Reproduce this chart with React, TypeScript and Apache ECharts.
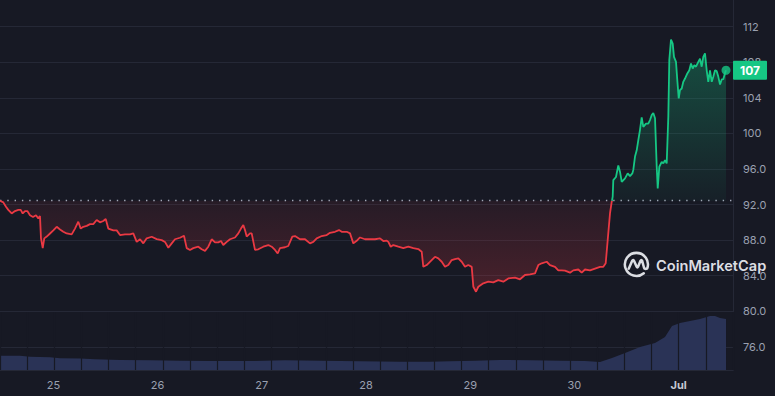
import React, { useEffect, useRef } from 'react';
import * as echarts from 'echarts';

// ---------- data ----------
// hours since 24 June 00:00, price
const OPEN_PRICE = 92.43;
const priceHistory: [number, number][] = [
  [11.70, 92.43], [12.46, 92.25], [13.08, 91.75], [13.61, 91.4], [14.39, 91.0], [15.15, 91.27], [15.92, 91.4], [16.47, 91.4],
  [16.93, 91.0], [17.46, 91.27], [17.99, 91.27], [18.61, 90.8], [19.30, 90.6], [19.99, 90.8], [20.52, 90.45], [20.91, 90.7],
  [21.14, 88.2], [21.54, 87.1], [21.90, 88.2], [22.46, 88.4], [23.22, 88.75], [23.98, 89.1], [24.76, 89.5], [25.52, 89.2],
  [26.28, 88.95], [27.06, 88.75], [28.21, 88.65], [28.97, 89.3], [29.73, 90.07], [30.29, 89.3], [30.89, 89.5], [31.67, 89.6],
  [32.43, 89.8], [33.19, 89.8], [33.97, 90.26], [34.73, 90.0], [35.49, 90.15], [36.05, 90.37], [36.64, 89.3], [37.80, 89.1],
  [38.58, 89.1], [39.34, 88.57], [40.49, 88.65], [41.64, 88.65], [42.40, 88.76], [43.19, 87.8], [43.95, 88.1], [44.71, 87.64],
  [45.49, 88.2], [46.64, 88.38], [47.79, 88.12], [48.94, 88.0], [49.70, 87.8], [50.47, 87.15], [51.25, 87.64], [52.01, 88.1],
  [53.16, 88.27], [54.08, 88.5], [54.70, 87.1], [55.46, 86.9], [56.22, 87.1], [57.37, 87.26], [58.16, 86.97], [58.92, 86.8],
  [59.68, 87.26], [60.46, 88.1], [61.22, 87.75], [61.98, 87.75], [62.60, 87.9], [63.13, 87.45], [63.92, 87.8], [64.68, 88.1],
  [65.83, 88.3], [66.59, 88.76], [67.21, 89.3], [67.74, 89.7], [68.13, 89.13], [68.52, 88.4], [69.28, 88.76], [69.67, 88.76],
  [70.43, 86.9], [71.19, 86.97], [72.35, 87.26], [73.50, 87.45], [74.28, 87.26], [75.04, 86.9], [75.66, 86.5], [76.19, 87.1],
  [77.34, 87.2], [78.10, 87.34], [79.03, 88.4], [79.65, 88.46], [80.80, 88.1], [81.95, 88.1], [83.10, 87.64], [83.86, 87.8],
  [84.65, 88.2], [85.80, 88.46], [86.95, 88.57], [87.71, 88.83], [88.86, 88.94], [89.78, 89.13], [90.40, 88.94], [91.56, 88.94],
  [92.32, 88.76], [93.08, 87.64], [93.86, 87.93], [94.62, 88.3], [95.77, 88.1], [96.92, 88.1], [98.07, 88.1], [99.23, 88.2],
  [99.99, 87.9], [100.77, 87.95], [101.14, 87.8], [101.69, 87.26], [102.29, 87.45], [103.44, 87.26], [104.59, 87.1], [105.74, 87.26],
  [106.90, 87.1], [108.05, 87.0], [108.83, 86.7], [109.20, 85.0], [109.98, 85.2], [111.13, 85.76], [111.89, 86.13], [112.65, 85.95],
  [113.44, 85.57], [114.20, 85.0], [114.96, 85.2], [115.74, 85.76], [116.50, 85.87], [117.26, 85.95], [118.04, 85.57], [118.80, 85.0],
  [119.56, 85.2], [120.35, 85.0], [120.72, 82.76], [121.34, 82.2], [121.87, 82.76], [123.02, 83.15], [124.17, 83.33], [125.32, 83.26],
  [126.47, 83.5], [127.63, 83.33], [128.78, 83.7], [130.32, 83.78], [131.47, 83.6], [132.62, 84.08], [133.78, 84.16], [134.93, 84.27],
  [135.69, 85.2], [136.47, 85.4], [137.62, 85.57], [138.38, 85.2], [139.53, 85.0], [140.29, 84.6], [141.08, 84.6], [141.84, 84.57],
  [142.99, 84.34], [143.75, 84.6], [144.90, 84.7], [145.68, 84.34], [146.44, 84.7], [147.60, 84.6], [148.75, 84.8], [149.90, 85.0],
  [150.66, 85.0], [151.21, 85.4], [151.67, 88.0], [152.20, 91.0], [152.59, 92.3], [152.66, 92.43],
  [152.82, 92.9], [152.96, 94.75], [153.58, 95.1], [154.11, 96.4], [154.50, 95.7], [154.90, 94.56], [155.66, 94.95], [156.28, 95.5],
  [156.81, 95.2], [157.34, 95.5], [157.57, 95.9], [157.96, 97.4], [158.35, 98.1], [158.72, 99.25], [159.11, 100.4], [159.50, 101.8],
  [159.87, 100.74], [160.49, 101.1], [161.02, 101.1], [161.41, 101.5], [161.81, 102.06], [162.17, 102.3], [162.57, 101.7], [162.96, 96.25],
  [163.19, 93.8], [163.56, 96.25], [164.11, 96.8], [164.48, 96.63], [164.87, 97.0], [165.26, 96.63], [165.63, 101.87], [165.86, 108.24],
  [166.25, 110.56], [166.64, 110.1], [166.94, 108.6], [167.40, 108.04], [167.70, 105.99], [168.03, 103.93], [168.32, 104.86], [168.72, 105.05],
  [169.08, 105.8], [169.48, 106.17], [170.01, 106.74], [170.47, 107.1], [170.86, 107.86], [171.25, 107.3], [171.62, 107.67], [172.01, 107.5],
  [172.54, 108.04], [172.93, 108.4], [173.32, 107.5], [173.69, 108.6], [174.08, 108.99], [174.47, 107.1], [174.84, 105.8], [175.23, 107.1],
  [175.63, 105.8], [175.99, 106.36], [176.39, 107.1], [176.78, 107.0], [177.15, 106.36], [177.54, 105.5], [177.93, 106.07], [178.30, 106.1],
  [178.69, 106.8], [178.92, 107.1],
];

// hours since 24 June 00:00, traded volume (M)
const volumeHistory: [number, number][] = [
  [11.70, 1430], [16.31, 1430], [18.61, 1320], [23.22, 1280], [25.52, 1170], [30.13, 1150], [33.58, 1070], [39.34, 1000],
  [46.25, 970], [53.16, 930], [60.07, 900], [69.28, 900], [77.34, 970], [85.41, 930], [94.62, 870], [103.83, 830],
  [110.74, 830], [115.35, 870], [121.11, 930], [126.87, 1000], [133.78, 970], [140.69, 930], [146.44, 900], [149.90, 800],
  [152.66, 1200], [155.66, 1700], [159.11, 2300], [162.57, 2700], [164.87, 3300], [166.48, 4400], [168.32, 4700], [172.93, 5100],
  [175.23, 5400], [176.39, 5400], [177.54, 5200], [178.92, 5100],
];

const dayTickHours = [24, 48, 72, 96, 120, 144, 168];
const dayTickLabels = ['25', '26', '27', '28', '29', '30', 'Jul'];
const priceTicks = [76, 80, 84, 88, 92, 96, 100, 104, 108, 112];

const X_MIN = 11.7;
const X_MAX = 180.53;

// ---------- style ----------
const BG = '#171924';
const GRID = '#252836';
const RED = '#ea3943';
const GREEN = '#16c784';
const VOL = '#2a3356';
const LABEL = '#9aa0b0';

const START_MS = new Date(2024, 5, 24, 0, 0, 0).getTime();
const toMs = (h: number) => START_MS + h * 3600000;

const LOGO_D =
  'M18.17 19.35 A9.6 9.6 0 1 1 21.02 15.28 ' +
  'M5.6 15.6 L8.5 9 Q9.2 7.6 10 9 L12.2 14 Q12.8 15.2 13.4 14 L15.4 9 Q16.1 7.6 16.8 9 L18.3 14.6 Q18.9 16.4 21 15.4';
echarts.graphic.registerShape('cmcLogo', echarts.graphic.extendPath(LOGO_D, {}));

function buildOption() {
  const crossIdx = priceHistory.findIndex(([, p], i) => i > 0 && p >= OPEN_PRICE);
  const redPart = priceHistory.slice(0, crossIdx + 1);
  const greenPart = priceHistory.slice(crossIdx);
  const last = priceHistory[priceHistory.length - 1];

  return {
    animation: false,
    backgroundColor: BG,
    grid: [
      { left: 0, right: 42, top: 0, bottom: 26 },
      { left: 0, right: 42, top: 312, bottom: 26 },
    ],
    xAxis: [
      {
        gridIndex: 0, type: 'time', min: toMs(X_MIN), max: toMs(X_MAX),
        axisLine: { show: false }, axisTick: { show: false }, axisLabel: { show: false }, splitLine: { show: false },
      },
      {
        gridIndex: 1, type: 'value', min: X_MIN, max: X_MAX,
        axisLine: { show: true, lineStyle: { color: GRID } },
        axisTick: { show: false, customValues: dayTickHours },
        splitLine: { show: false },
        axisLabel: {
          customValues: dayTickHours,
          margin: 9,
          color: LABEL,
          fontFamily: 'Inter',
          fontSize: 11,
          formatter: (v: number) => {
            const i = dayTickHours.indexOf(v);
            const t = i >= 0 ? dayTickLabels[i] : '';
            return t === 'Jul' ? '{b|' + t + '}' : t;
          },
          rich: { b: { fontWeight: 'bold', color: '#c4c8d3', fontFamily: 'Inter', fontSize: 11 } },
        },
      },
      {
        gridIndex: 1, type: 'value', min: 0, max: 27, interval: 1, position: 'top', z: 5,
        axisLine: { show: false }, axisTick: { show: false }, axisLabel: { show: false },
        splitLine: { show: true, lineStyle: { color: BG, width: 1.2 } },
      },
    ],
    yAxis: [
      {
        gridIndex: 0, type: 'value', position: 'right', min: 73.4, max: 115,
        axisLine: { show: true, lineStyle: { color: GRID } },
        axisTick: { show: false, customValues: priceTicks },
        splitLine: { show: true, lineStyle: { color: GRID, width: 1 } },
        axisLabel: {
          customValues: priceTicks,
          margin: 10,
          color: LABEL,
          fontFamily: 'Inter',
          fontSize: 11,
          formatter: (v: number) => (v >= 100 ? String(v) : v.toFixed(1)),
        },
      },
      { gridIndex: 1, type: 'value', min: 0, max: 5800, show: false, splitLine: { show: false } },
    ],
    series: [
      {
        name: 'volume', type: 'line', xAxisIndex: 1, yAxisIndex: 1, data: volumeHistory,
        showSymbol: false, lineStyle: { width: 0 }, areaStyle: { color: VOL, opacity: 1 }, z: 2, silent: true,
      },
      {
        name: 'redLine', type: 'line', xAxisIndex: 0, yAxisIndex: 0, stack: 'red',
        data: redPart.map(([h, p]) => [toMs(h), p]), showSymbol: false,
        lineStyle: { color: RED, width: 1.8 }, z: 5, silent: true,
      },
      {
        name: 'redFill', type: 'line', xAxisIndex: 0, yAxisIndex: 0, stack: 'red',
        data: redPart.map(([h, p]) => [toMs(h), OPEN_PRICE - p]), showSymbol: false,
        lineStyle: { width: 0, opacity: 0 },
        areaStyle: {
          opacity: 1,
          color: new echarts.graphic.LinearGradient(0, 0, 0, 1, [
            { offset: 0, color: 'rgba(234,57,67,0.07)' },
            { offset: 1, color: 'rgba(234,57,67,0.24)' },
          ]),
        },
        z: 3, silent: true,
      },
      {
        name: 'greenBase', type: 'line', xAxisIndex: 0, yAxisIndex: 0, stack: 'green',
        data: greenPart.map(([h]) => [toMs(h), OPEN_PRICE]), showSymbol: false,
        lineStyle: { width: 0, opacity: 0 }, z: 3, silent: true,
      },
      {
        name: 'greenLine', type: 'line', xAxisIndex: 0, yAxisIndex: 0, stack: 'green',
        data: greenPart.map(([h, p]) => [toMs(h), p - OPEN_PRICE]), showSymbol: false,
        lineStyle: { color: GREEN, width: 1.8 },
        areaStyle: {
          opacity: 1,
          color: new echarts.graphic.LinearGradient(0, 0, 0, 1, [
            { offset: 0, color: 'rgba(22,199,132,0.32)' },
            { offset: 1, color: 'rgba(22,199,132,0.04)' },
          ]),
        },
        endLabel: {
          show: true,
          formatter: () => String(Math.round(last[1])),
          backgroundColor: GREEN,
          color: '#ffffff',
          fontFamily: 'Inter',
          fontWeight: 'bold',
          fontSize: 12,
          lineHeight: 14,
          padding: [3, 7, 2, 7],
          borderRadius: 1,
          distance: 7,
        },
        z: 5, silent: true,
      },
      {
        name: 'last', type: 'scatter', xAxisIndex: 0, yAxisIndex: 0, data: [[toMs(last[0]), last[1]]],
        symbolSize: 9, itemStyle: { color: GREEN }, z: 6, silent: true,
        markLine: {
          silent: true, symbol: ['none', 'none'], label: { show: false },
          lineStyle: { color: '#a3a8b8', type: [1.4, 5.9], width: 1.3 },
          data: [{ yAxis: OPEN_PRICE }],
        },
      },
    ],
    graphic: [
      {
        type: 'cmcLogo', x: 622, y: 250, scaleX: 1.2, scaleY: 1.2, z: 100, silent: true,
        style: { fill: 'none', stroke: '#dcdee3', lineWidth: 2.1, lineCap: 'round', lineJoin: 'round' },
      },
      {
        type: 'text', x: 656, y: 265.5, z: 100, silent: true,
        style: { text: 'CoinMarketCap', fill: '#dcdee3', fontFamily: 'Inter', fontWeight: 600, fontSize: 14.6, verticalAlign: 'middle' },
      },
    ],
  };
}

export default function App() {
  const ref = useRef<HTMLDivElement>(null);
  useEffect(() => {
    document.body.style.margin = '0';
    document.body.style.background = BG;
    const chart = echarts.init(ref.current as HTMLDivElement, undefined, { renderer: 'svg' });
    chart.setOption(buildOption() as any);
    return () => chart.dispose();
  }, []);
  return <div ref={ref} style={{ width: 775, height: 396, background: BG }} />;
}
